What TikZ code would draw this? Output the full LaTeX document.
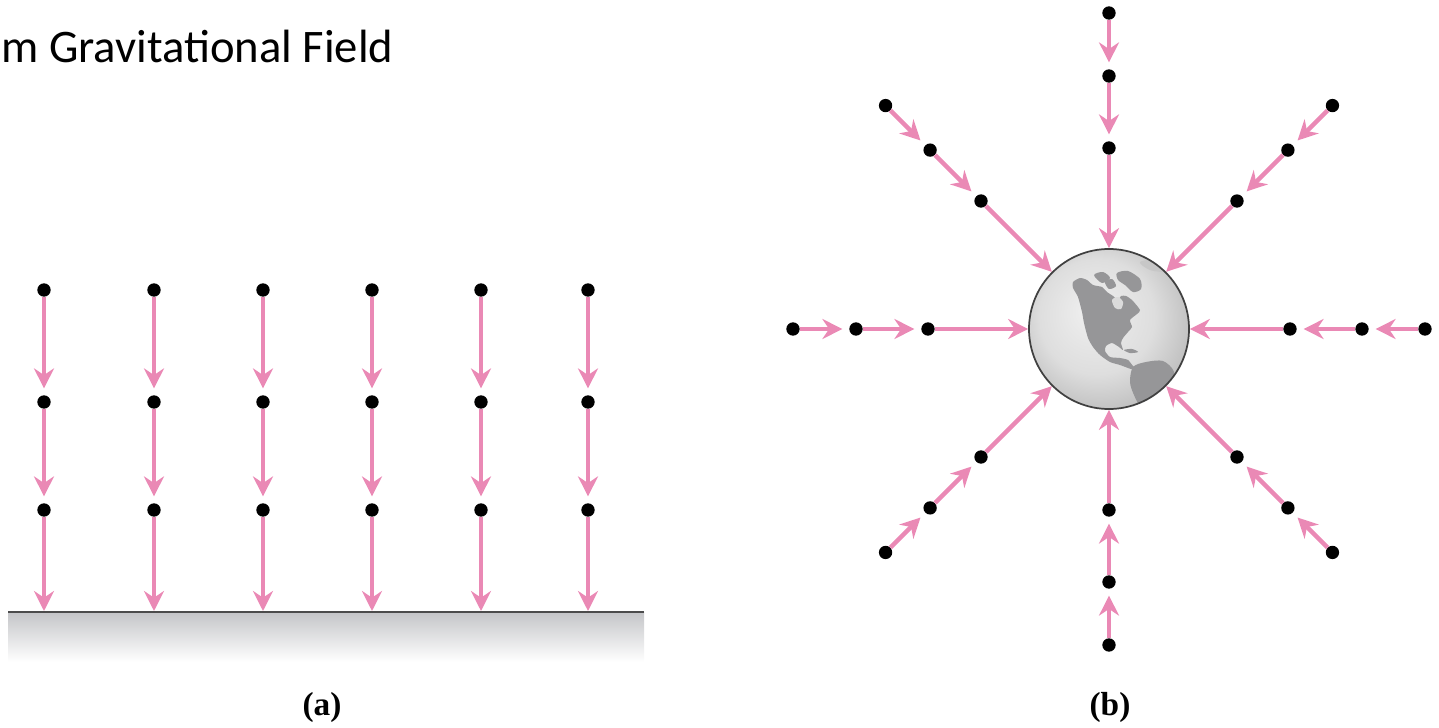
\documentclass[tikz,border=0pt]{standalone}
\usepackage{fontspec}
\newfontfamily\titlefont{Carlito}
\newfontfamily\panelfont{Liberation Serif}
\usetikzlibrary{arrows.meta}

\definecolor{fieldpink}{RGB}{234,137,181}
\definecolor{landgray}{RGB}{150,150,152}
\definecolor{groundtop}{RGB}{196,197,200}
% light sphere, brightest towards the upper left
\pgfdeclareradialshading{globe}{\pgfpoint{-6bp}{6bp}}{%
  color(0bp)=(black!6); color(18bp)=(black!13); color(28bp)=(black!24); color(36bp)=(black!36); color(50bp)=(black!40)}

\begin{document}
\begin{tikzpicture}[x=0.75pt,y=-0.75pt,
  dot/.style={circle,fill=black,inner sep=0pt,minimum size=10pt},
  field/.style={draw=fieldpink,line width=3.4pt,
    -{Stealth[length=15pt,width=15pt,inset=5pt]},shorten >=5pt},
  tofield/.style={field,shorten >=0pt},
  land/.style={fill=landgray,draw=none},
  panel/.style={font=\panelfont\bfseries\fontsize{25}{30}\selectfont}]
\useasboundingbox (0,0) rectangle (1439,728);

% heading
\node[anchor=base west,inner sep=0pt,font=\titlefont\fontsize{35}{42}\selectfont]
  (title) at (1,62) {m Gravitational Field};

% ---------- (a) uniform field above flat ground ----------
\shade[top color=groundtop,bottom color=white] (8,612) rectangle (644,662);
\draw[line width=1.6pt,black!70] (8,612) -- (644,612);

\foreach \i/\x in {1/44,2/154,3/263,4/372,5/481,6/588} {
  \node[dot] (a\i1) at (\x,290) {};
  \node[dot] (a\i2) at (\x,402) {};
  \node[dot] (a\i3) at (\x,510) {};
  \coordinate (g\i) at (\x,611);
  \draw[field] (a\i1) -- (a\i2);
  \draw[field] (a\i2) -- (a\i3);
  \draw[tofield] (a\i3) -- (g\i);
}
\node[panel] (labela) at (322,707) {(a)};

% ---------- (b) radial field around the Earth ----------
\shade[shading=globe] (1109,329) circle (80);
\begin{scope}
  \clip (1109,329) circle (80);
  % North America
  \fill[land] plot[smooth cycle,tension=0.4] coordinates {
    (1073,282) (1080,278) (1087,280) (1093,285) (1102,287) (1107,292)
    (1113,296) (1118,300) (1121,296) (1126,296) (1132,300) (1140,310)
    (1137,314) (1130,320) (1132,327) (1128,332) (1123,338) (1121,343)
    (1123,350) (1119,347) (1112,343) (1106,346) (1105,351) (1110,357)
    (1120,358) (1128,360) (1133,366) (1139,370) (1131,369) (1120,365)
    (1110,362) (1100,355) (1093,347) (1088,338) (1084,323) (1082,312)
    (1078,297) (1073,288)};
  % Hudson Bay
  \fill[black!14] plot[smooth cycle] coordinates {
    (1112,300) (1118,297) (1123,302) (1121,309) (1115,308)};
  % Greenland
  \fill[land] plot[smooth cycle,tension=0.5] coordinates {
    (1117,273) (1128,271) (1140,279) (1141,289) (1133,292) (1125,285) (1118,280)};
  % Arctic islands
  \fill[land] plot[smooth cycle] coordinates {(1094,275) (1103,272) (1110,278) (1102,283)};
  \fill[land] plot[smooth cycle] coordinates {(1105,282) (1112,279) (1116,286) (1109,289)};
  \fill[black!22] plot[smooth cycle] coordinates {
    (1140,262) (1160,259) (1175,266) (1168,272) (1150,270)};
  % Caribbean
  \fill[land] plot[smooth cycle] coordinates {(1124,350) (1132,349) (1138,352) (1130,353)};
  % South America
  \fill[land] plot[smooth cycle,tension=0.5] coordinates {
    (1133,367) (1146,362) (1163,361) (1174,372) (1170,390) (1156,403)
    (1142,408) (1134,395) (1130,382)};
\end{scope}
\node[circle,draw=black!75,line width=1.3pt,minimum size=120pt,inner sep=0pt]
  (earth) at (1109,329) {};

\foreach \k in {0,1,...,7} {
  \pgfmathsetmacro{\ang}{45*\k}
  \path (earth.center) ++(\ang:316) node[dot] (b\k1) {};
  \path (earth.center) ++(\ang:253) node[dot] (b\k2) {};
  \path (earth.center) ++(\ang:181) node[dot] (b\k3) {};
  \draw[field] (b\k1) -- (b\k2);
  \draw[field] (b\k2) -- (b\k3);
  \draw[tofield] (b\k3) -- (earth);
}
\node[panel] (labelb) at (1110,707) {(b)};
\end{tikzpicture}
\end{document}
